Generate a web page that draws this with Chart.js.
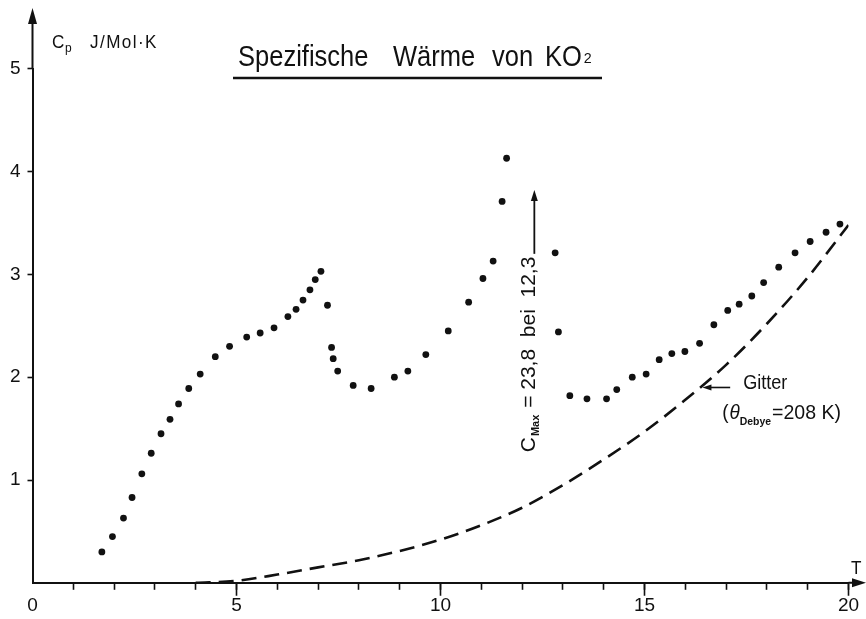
<!DOCTYPE html>
<html>
<head>
<meta charset="utf-8">
<script src="https://cdn.jsdelivr.net/npm/chart.js@4.4.1/dist/chart.umd.min.js"></script>
<style>
  html, body { margin: 0; padding: 0; background: #fff; }
  #cp-chart { display: block; }
</style>
</head>
<body>
<canvas id="cp-chart" width="866" height="619"></canvas>
<script>
// Messwerte KO2: Temperatur T (K) und Cp (J/Mol·K)
var measT = [1.70, 1.96, 2.23, 2.44, 2.68, 2.91, 3.15, 3.37, 3.58, 3.83,
             4.11, 4.48, 4.83, 5.25, 5.58, 5.92, 6.26, 6.46, 6.63, 6.80,
             6.93, 7.07, 7.23, 7.33, 7.37, 7.48, 7.86, 8.30, 8.87, 9.20,
             9.64, 10.19, 10.69, 11.04, 11.29, 11.51, 11.62, 12.81, 12.89, 13.17,
             13.59, 14.07, 14.32, 14.70, 15.04, 15.36, 15.67, 15.99, 16.35, 16.70,
             17.04, 17.32, 17.63, 17.92, 18.29, 18.69, 19.06, 19.45, 19.79];
var measCp = [0.30, 0.45, 0.63, 0.83, 1.06, 1.26, 1.45, 1.59, 1.74, 1.89,
              2.03, 2.20, 2.30, 2.39, 2.43, 2.48, 2.59, 2.66, 2.75, 2.85,
              2.95, 3.03, 2.70, 2.29, 2.18, 2.06, 1.92, 1.89, 2.00, 2.06,
              2.22, 2.45, 2.73, 2.96, 3.13, 3.71, 4.13, 3.21, 2.44, 1.82,
              1.79, 1.79, 1.88, 2.00, 2.03, 2.17, 2.23, 2.25, 2.33, 2.51,
              2.65, 2.71, 2.79, 2.92, 3.07, 3.21, 3.32, 3.41, 3.49];

// Gitteranteil (Debye, theta = 208 K), gestrichelte Kurve
var gitterT  = [4, 5, 6, 7, 8, 9, 10, 11, 12, 13, 14, 15, 16, 17, 18, 19, 20];
var gitterCp = [0.0, 0.02, 0.08, 0.15, 0.22, 0.31, 0.42, 0.56, 0.73, 0.95,
                1.20, 1.47, 1.78, 2.12, 2.52, 2.97, 3.48];

var xLabelTicks = [0, 5, 10, 15, 20];
var yLabelTicks = [1, 2, 3, 4, 5];

// Pfeil für C_Max (bei T = 12,3) und Pfeil auf die Gitterkurve
var maxArrowT = 12.3, maxArrowFrom = 3.2, maxArrowTo = 3.82, maxTextFrom = 1.27;
var gitterArrowFrom = 17.1, gitterArrowTo = 16.42, gitterArrowCp = 1.9;

var INK = '#111';
var FONT = '"Liberation Sans", Arial, sans-serif';

function arrowHead(ctx, x, y, dx, dy, len, half) {
  // tip at (x, y), pointing along (dx, dy)
  ctx.beginPath();
  ctx.moveTo(x, y);
  ctx.lineTo(x - dx * len - dy * half, y - dy * len + dx * half);
  ctx.lineTo(x - dx * len + dy * half, y - dy * len - dx * half);
  ctx.closePath();
  ctx.fill();
}

// narrow lettering: draw text squeezed horizontally, returns advance
function narrowText(ctx, text, x, y, font, sx) {
  ctx.save();
  ctx.font = font;
  ctx.translate(x, y);
  ctx.scale(sx, 1);
  ctx.fillText(text, 0, 0);
  var w = ctx.measureText(text).width * sx;
  ctx.restore();
  return w;
}

var decorations = {
  id: 'decorations',
  afterDraw: function (chart) {
    var ctx = chart.ctx;
    var xs = chart.scales.x, ys = chart.scales.y;
    var area = chart.chartArea;
    ctx.save();
    ctx.fillStyle = INK;
    ctx.strokeStyle = INK;
    ctx.textBaseline = 'alphabetic';

    // Achsen verlängern, Pfeilspitzen
    ctx.lineWidth = 2;
    ctx.beginPath();
    ctx.moveTo(area.left, area.top);
    ctx.lineTo(area.left, 20);
    ctx.moveTo(area.right, area.bottom);
    ctx.lineTo(856, area.bottom);
    ctx.stroke();
    arrowHead(ctx, area.left, 8, 0, -1, 16, 4.5);
    arrowHead(ctx, 866, area.bottom, 1, 0, 14, 4.5);

    // lange Striche bei 5, 10, 15, 20
    ctx.lineWidth = 1.6;
    ctx.beginPath();
    xLabelTicks.forEach(function (v) {
      if (v === 0) return;
      var px = xs.getPixelForValue(v);
      ctx.moveTo(px, area.bottom);
      ctx.lineTo(px, area.bottom + 13);
    });
    ctx.stroke();

    // Titel
    var tf = '29px ' + FONT;
    narrowText(ctx, 'Spezifische', 238, 66, tf, 0.88);
    narrowText(ctx, 'Wärme', 393, 66, tf, 0.88);
    narrowText(ctx, 'von', 492, 66, tf, 0.88);
    var kw = narrowText(ctx, 'KO', 545, 66, tf, 0.88);
    narrowText(ctx, '2', 545 + kw + 2, 63, '15px ' + FONT, 0.95);
    ctx.lineWidth = 2.6;
    ctx.beginPath();
    ctx.moveTo(233, 78);
    ctx.lineTo(602, 78);
    ctx.stroke();

    // Achsenbeschriftungen
    narrowText(ctx, 'C', 52, 48, '19px ' + FONT, 0.9);
    narrowText(ctx, 'p', 65, 52, '12px ' + FONT, 1);
    ctx.letterSpacing = '1.5px';
    narrowText(ctx, 'J/Mol·K', 90, 48, '18px ' + FONT, 0.95);
    ctx.letterSpacing = '0px';
    narrowText(ctx, 'T', 851, 574, '19px ' + FONT, 0.9);

    // C_Max-Pfeil und senkrechter Text
    var ax = xs.getPixelForValue(maxArrowT);
    var ay0 = ys.getPixelForValue(maxArrowFrom);
    var ay1 = ys.getPixelForValue(maxArrowTo);
    ctx.lineWidth = 1.8;
    ctx.beginPath();
    ctx.moveTo(ax, ay0);
    ctx.lineTo(ax, ay1 + 8);
    ctx.stroke();
    arrowHead(ctx, ax, ay1, 0, -1, 11, 3.5);

    ctx.save();
    ctx.translate(ax + 1, ys.getPixelForValue(maxTextFrom));
    ctx.rotate(-Math.PI / 2);
    ctx.font = '21px ' + FONT;
    ctx.fillText('C', 0, 0);
    var cw = ctx.measureText('C').width;
    ctx.font = 'bold 11px ' + FONT;
    ctx.fillText('Max', cw + 1, 4);
    var mw = ctx.measureText('Max').width;
    ctx.font = '21px ' + FONT;
    ctx.fillText(' = 23,8  bei  12,3', cw + mw + 2, 0);
    ctx.restore();

    // Gitter-Pfeil und Beschriftung
    var gx0 = xs.getPixelForValue(gitterArrowFrom);
    var gx1 = xs.getPixelForValue(gitterArrowTo);
    var gy = ys.getPixelForValue(gitterArrowCp);
    ctx.lineWidth = 1.6;
    ctx.beginPath();
    ctx.moveTo(gx0, gy);
    ctx.lineTo(gx1 + 6, gy);
    ctx.stroke();
    arrowHead(ctx, gx1, gy, -1, 0, 9, 3);

    var lf = '21px ' + FONT;
    narrowText(ctx, 'Gitter', gx0 + 13, gy + 2, lf, 0.86);
    var tx = gx0 - 8, ty = gy + 32;
    tx += narrowText(ctx, '(', tx, ty, lf, 0.9) + 1;
    tx += narrowText(ctx, 'θ', tx, ty, 'italic ' + lf, 0.9);
    tx += narrowText(ctx, 'Debye', tx, ty + 6, 'bold 11px ' + FONT, 0.95) + 1;
    narrowText(ctx, '=208 K)', tx, ty, lf, 0.93);
    ctx.restore();
  }
};

var measPoints = measT.map(function (t, i) { return { x: t, y: measCp[i] }; });
var gitterPoints = gitterT.map(function (t, i) { return { x: t, y: gitterCp[i] }; });

new Chart(document.getElementById('cp-chart'), {
  type: 'scatter',
  data: {
    datasets: [{
      label: 'Cp',
      data: measPoints,
      pointRadius: 3.4,
      pointBorderWidth: 0,
      backgroundColor: INK,
      borderColor: INK
    }, {
      label: 'Gitter',
      type: 'line',
      data: gitterPoints,
      showLine: true,
      fill: false,
      pointRadius: 0,
      borderColor: INK,
      borderWidth: 2.6,
      borderDash: [15, 8],
      cubicInterpolationMode: 'monotone'
    }]
  },
  options: {
    responsive: false,
    animation: false,
    devicePixelRatio: 1,
    layout: { padding: { top: 68.8, right: 17.5, left: 0, bottom: 0 } },
    plugins: {
      legend: { display: false },
      tooltip: { enabled: false }
    },
    scales: {
      x: {
        type: 'linear',
        min: 0,
        max: 20,
        afterFit: function (scale) { scale.height = 36.2; },
        border: { display: true, color: INK, width: 2 },
        grid: {
          drawOnChartArea: false,
          drawTicks: true,
          tickLength: 7,
          tickWidth: 1.6,
          tickColor: function (c) { return c.tick && c.tick.value === 0 ? 'rgba(0,0,0,0)' : INK; }
        },
        ticks: {
          stepSize: 1,
          autoSkip: false,
          maxRotation: 0,
          padding: 5,
          color: INK,
          font: { family: FONT, size: 19 },
          callback: function (v) { return xLabelTicks.indexOf(v) >= 0 ? String(v) : ''; }
        }
      },
      y: {
        type: 'linear',
        min: 0,
        max: 5,
        afterFit: function (scale) { scale.width = 32.5; },
        border: { display: true, color: INK, width: 2 },
        grid: {
          drawOnChartArea: false,
          drawTicks: true,
          tickLength: 5,
          tickWidth: 1.6,
          tickColor: function (c) { return c.tick && c.tick.value === 0 ? 'rgba(0,0,0,0)' : INK; }
        },
        ticks: {
          stepSize: 1,
          padding: 7,
          color: INK,
          font: { family: FONT, size: 19 },
          callback: function (v) { return yLabelTicks.indexOf(v) >= 0 ? String(v) : ''; }
        }
      }
    }
  },
  plugins: [decorations]
});
</script>
</body>
</html>
